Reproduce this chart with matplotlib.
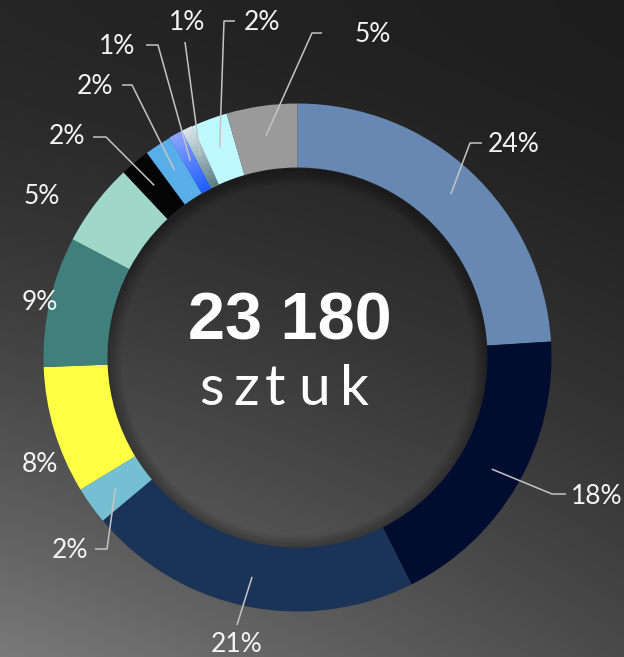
import numpy as np
import matplotlib.pyplot as plt
from matplotlib.patches import Wedge
from matplotlib.colors import to_rgb

# data (share of the 23 180 pieces, read from the ring; labels as printed)
shares = [24.0, 18.6, 21.3, 2.4, 8.1, 8.3, 5.3, 1.9, 1.7, 0.9, 0.7, 2.3, 4.5]
labels = ["24%", "18%", "21%", "2%", "8%", "9%", "5%", "2%", "2%", "1%", "1%", "2%", "5%"]
colors = ["#6688b2", "#000d30", "#1c3358", "#74c0d2", "#ffff44", "#3f7f7c",
          "#a0d8c8", "#050505", "#58aee8", "#5a7cff", "#a0b8c0", "#bff8ff", "#9a9a9a"]
total_text = "23 180"
unit_text = "sztuk"

W, H = 624, 657
cx, cy = 297.5, H - 357.5
R_OUT, R_IN = 254, 190

fig = plt.figure(figsize=(W / 100, H / 100), dpi=100)
ax = fig.add_axes([0, 0, 1, 1])

# background gradient, light in the bottom-left corner
p = np.linspace(0, 1, 300)[None, :]
q = np.linspace(1, 0, 300)[:, None]  # 1 at top
Q = (1 - q) ** 1.6
top = 38 * (1 - p) + 29 * p
bot = 122 * (1 - p) + 74 * p
v = (top + (bot - top) * Q) / 255.0
ax.imshow(np.dstack([v, v, v]), extent=(0, W, 0, H), origin="upper", zorder=0,
          interpolation="bilinear", aspect="auto")

# soft shadow inside the hole
for k in range(10):
    ax.add_patch(Wedge((cx, cy - 2), R_IN + 1, 0, 360, width=1.5 + k * 1.5,
                       facecolor="black", alpha=0.03, edgecolor="none", zorder=1))

wedges, _ = ax.pie(shares, colors=colors, startangle=90, counterclock=False,
                   radius=R_OUT, center=(cx, cy), frame=True,
                   wedgeprops=dict(width=R_OUT - R_IN, edgecolor="none", zorder=2))

# radial gradient on the two thin 1% slices
grad = {9: ("#8aa2ff", "#1f5fff"), 10: ("#d8e4ea", "#5e7f88")}
for idx, (c_out, c_in) in grad.items():
    w = wedges[idx]
    co, ci = np.array(to_rgb(c_out)), np.array(to_rgb(c_in))
    n = 16
    step = (R_OUT - R_IN) / n
    for j in range(n):
        t = j / (n - 1)
        col = ci * (1 - t) + co * t
        ax.add_patch(Wedge((cx, cy), R_IN + (j + 1) * step + 0.5, w.theta1, w.theta2,
                           width=step + 0.5, facecolor=col, edgecolor="none", zorder=3))

# label layout in pixel coords (y downward): text pos, alignment, leader path
layout = [
    ((488, 145), "left", [(470, 143), (482, 143)]),
    ((571, 497), "left", [(552, 494), (566, 494)]),
    ((237, 644), "center", [(237, 625)]),
    ((88, 550), "right", [(107, 549), (95, 549)]),
    ((40, 465), "center", None),
    ((40, 302), "center", None),
    ((42, 197), "center", None),
    ((85, 137), "right", [(106, 137), (93, 137)]),
    ((113, 86), "right", [(132, 85), (122, 85)]),
    ((135, 47), "right", [(158, 45), (146, 45)]),
    ((187, 22), "center", [(185, 42)]),
    ((244, 22), "left", [(224, 21), (235, 21)]),
    ((355, 35), "left", [(312, 33), (322, 33)]),
]

R_MID = 224
for w, lab, (tpos, ha, path) in zip(wedges, labels, layout):
    ang = np.deg2rad((w.theta1 + w.theta2) / 2)
    if path:
        xs = [cx + R_MID * np.cos(ang)] + [x for x, _ in path]
        ys = [cy + R_MID * np.sin(ang)] + [H - y for _, y in path]
        ax.plot(xs, ys, color="#c4c4c4", lw=1.1, zorder=4, solid_capstyle="butt")
    ax.text(tpos[0], H - tpos[1], lab, ha=ha, va="center", color="#f4f4f4",
            fontsize=19, family="Lato", zorder=5)

# centre text
ax.text(289.5, H - 339, total_text, ha="center", va="baseline", color="white",
        fontsize=48, fontweight="bold", family="Liberation Sans", zorder=5)
letter_x = [199, 233, 265, 298, 340]
for ch, x in zip(unit_text, letter_x):
    ax.text(x, H - 405, ch, ha="left", va="baseline", color="white",
            fontsize=41, family="Lato", zorder=5)

ax.set_xlim(0, W)
ax.set_ylim(0, H)
ax.set_aspect("equal")
ax.axis("off")
fig.savefig("out.png", dpi=100)
